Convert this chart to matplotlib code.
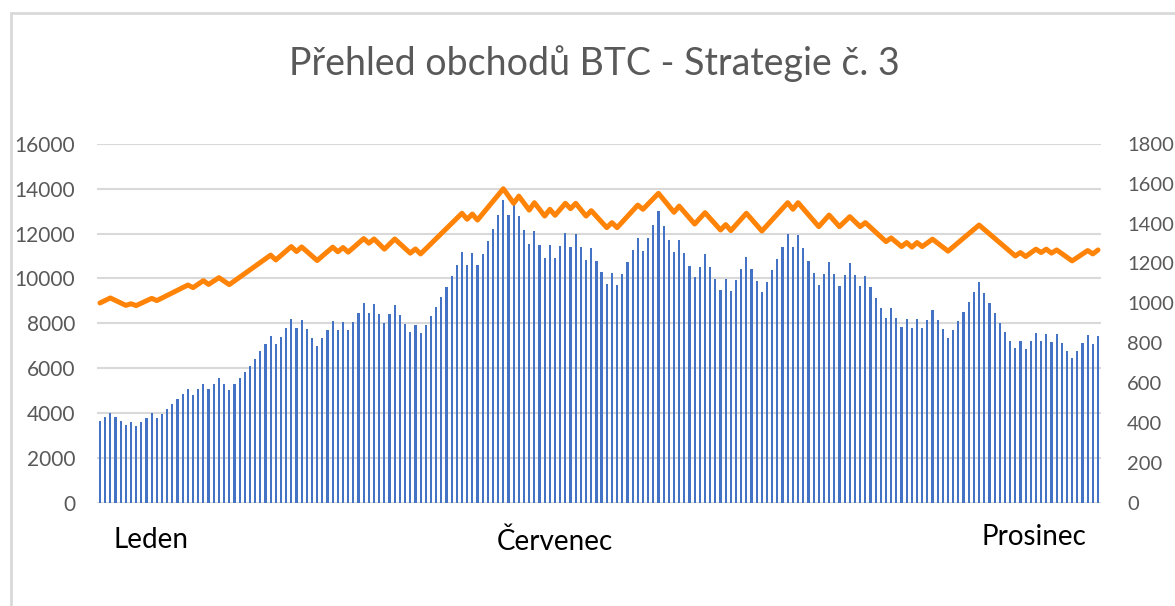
import numpy as np
import matplotlib
matplotlib.use("Agg")
import matplotlib.pyplot as plt
from matplotlib.patches import Rectangle

plt.rcParams['font.family'] = ['Lato', 'DejaVu Sans']

title = "Přehled obchodů BTC - Strategie č. 3"
month_labels = ["Leden", "Červenec", "Prosinec"]

# bar heights (left axis), one per trade
bars = [
    3640, 3840, 4010, 3820, 3630, 3450, 3610, 3430, 3600, 3790,
    3990, 3780, 3970, 4160, 4390, 4610, 4830, 5070, 4820, 5060,
    5310, 5060, 5290, 5580, 5280, 5030, 5280, 5550, 5810, 6110,
    6420, 6750, 7080, 7420, 7060, 7410, 7780, 8180, 7780, 8150,
    7730, 7360, 6990, 7330, 7720, 8090, 7690, 8070,
    7690, 8060, 8480, 8900, 8460, 8880, 8430, 8020, 8420, 8830, 8390, 7990,
    7590, 7940, 7570, 7930, 8330, 8740, 9170, 9630, 10120, 10610,
    11170, 10590, 11130, 10580, 11100, 11660, 12220, 12840, 13480, 12830,
    13470, 12790, 12160, 11540, 12120, 11510, 10920, 11480, 10900, 11440,
    12030, 11420, 12000, 11390, 10830, 11360,
    10800, 10270, 9750, 10240, 9720, 10200, 10730, 11250, 11820, 11230,
    11790, 12390, 13010, 12340, 11730, 11160, 11700, 11130, 10560, 10050,
    10530, 11070, 10500, 9990, 9480, 9960, 9450, 9940, 10420, 10950,
    10420, 9880, 9380, 9850, 10360, 10860, 11410, 11990, 11390, 11940,
    11350, 10800, 10250, 9730, 10220, 10740, 10190, 9680,
    10160, 10680, 10150, 9650, 10120, 9620, 9140, 8680, 8250, 8670,
    8240, 7820, 8210, 7810, 8190, 7780, 8160, 8580, 8150, 7740,
    7350, 7720, 8110, 8510, 8940, 9380, 9840, 9350, 8890, 8450,
    8020, 7620, 7230, 6880, 7220, 6860, 7210, 7560, 7200, 7540,
    7160, 7530, 7140, 6770, 6440, 6770, 7110, 7480, 7080, 7450,
]

# orange line (right axis): turning points, given as trade number and value
line_x = [1, 3, 6, 7, 8, 11, 12, 18, 19, 21, 22, 24, 26, 34, 35, 38, 39, 40,
          43, 46, 47, 48, 49, 52, 53, 54, 56, 58, 61, 62, 63, 71, 72, 73, 74,
          79, 81, 82, 84, 85, 87, 88, 89, 91, 92, 93, 95, 96, 99, 100, 101,
          105, 106, 109, 112, 113, 116, 118, 121, 122, 123, 126, 129, 134,
          135, 136, 140, 142, 144, 146, 148, 149, 153, 154, 156, 157, 158,
          159, 160, 162, 165, 171, 178, 179, 180, 182, 183, 184, 185, 186,
          189, 192, 193, 194]
line_y = [1002, 1027, 990, 998, 989, 1025, 1014, 1092, 1079, 1114, 1095, 1129,
          1094, 1242, 1218, 1285, 1260, 1283, 1215, 1282, 1259, 1280, 1257,
          1325, 1302, 1323, 1272, 1323, 1252, 1273, 1248, 1452, 1422, 1448,
          1418, 1575, 1502, 1538, 1468, 1505, 1438, 1472, 1442, 1502, 1475,
          1502, 1438, 1465, 1380, 1405, 1380, 1493, 1472, 1552, 1457, 1488,
          1398, 1455, 1368, 1395, 1365, 1452, 1363, 1505, 1472, 1505, 1385,
          1443, 1385, 1435, 1385, 1405, 1310, 1328, 1285, 1305, 1282, 1305,
          1285, 1322, 1262, 1393, 1238, 1255, 1235, 1272, 1255, 1272, 1252,
          1268, 1213, 1265, 1248, 1268]

W, H = 1175, 606
fig = plt.figure(figsize=(W / 100, H / 100), dpi=100)

# chart frame (runs off the right and bottom edge)
fig.patches.append(Rectangle((11 / W, -0.1), 1.2, (H - 13) / H + 0.1,
                             transform=fig.transFigure, fill=False,
                             edgecolor='#d9d9d9', linewidth=2))

ax = fig.add_axes([97.4 / W, (H - 502.7) / H, 1003.2 / W, 358.8 / H])
n = len(bars)
x = np.arange(1, n + 1)
ax.bar(x, bars, width=0.42, color='#4472c4', zorder=2)
ax.set_xlim(0.5, n + 0.5)
ax.set_ylim(0, 16000)
ax.set_yticks(np.arange(0, 16001, 2000))
ax.yaxis.grid(True, color='#d9d9d9', linewidth=1.5, zorder=0)
ax.set_axisbelow(True)
ax.set_xticks([])
for s in ax.spines.values():
    s.set_visible(False)
ax.tick_params(axis='y', length=0, pad=16, labelsize=15, labelcolor='#595959')

ax2 = ax.twinx()
ax2.plot(line_x, line_y, color='#ff8307', linewidth=3.6,
         solid_joinstyle='round', solid_capstyle='round', zorder=3)
ax2.set_ylim(0, 1800)
ax2.set_yticks(np.arange(0, 1801, 200))
for s in ax2.spines.values():
    s.set_visible(False)
ax2.tick_params(axis='y', length=0, pad=19, labelsize=14.5, labelcolor='#595959')

fig.text(594 / W, 1 - 64 / H, title, ha='center', va='center',
         fontsize=27, color='#595959')

fig.text(113 / W, 1 - 540 / H, month_labels[0], ha='left', va='center',
         fontsize=20, color='black')
fig.text(555 / W, 1 - 542 / H, month_labels[1], ha='center', va='center',
         fontsize=20, color='black')
fig.text(1034 / W, 1 - 537 / H, month_labels[2], ha='center', va='center',
         fontsize=20, color='black')

fig.savefig("out.png", dpi=100)
